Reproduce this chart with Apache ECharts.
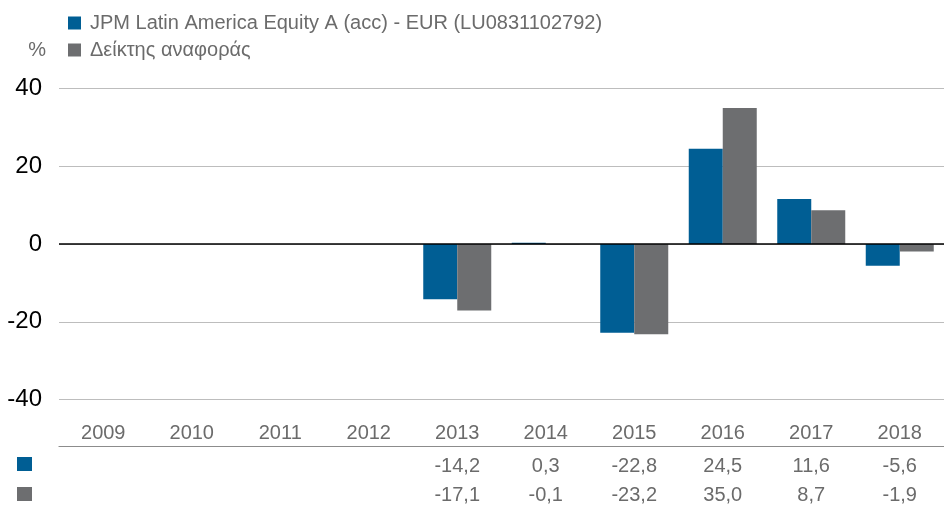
<!DOCTYPE html>
<html>
<head>
<meta charset="utf-8">
<script src="https://cdn.jsdelivr.net/npm/echarts@6/dist/echarts.min.js"></script>
<style>
  html, body { margin: 0; padding: 0; background: #fff; }
  #chart { width: 944px; height: 507px; }
</style>
</head>
<body>
<div id="chart"></div>
<script>
var years = ['2009', '2010', '2011', '2012', '2013', '2014', '2015', '2016', '2017', '2018'];
var fundName = 'JPM Latin America Equity A (acc) - EUR (LU0831102792)';
var benchName = 'Δείκτης αναφοράς';
var fundValues = [null, null, null, null, -14.2, 0.3, -22.8, 24.5, 11.6, -5.6];
var benchValues = [null, null, null, null, -17.1, -0.1, -23.2, 35.0, 8.7, -1.9];
var yTicks = [-40, -20, 0, 20, 40];

var blue = '#005e94';
var grey = '#6d6e70';
var textGrey = '#6b6b6b';
var font = '"Liberation Sans", Arial, sans-serif';

function fmt(v) {
    if (v === null || v === undefined) return '';
    return v.toFixed(1).replace('.', ',');
}

var chart = echarts.init(document.getElementById('chart'));

var option = {
    animation: false,
    textStyle: { fontFamily: font },
    color: [blue, grey],
    legend: {
        orient: 'vertical',
        left: 68,
        top: 13,
        padding: 0,
        itemWidth: 13,
        itemHeight: 13,
        itemGap: 7,
        icon: 'rect',
        selectedMode: false,
        textStyle: { fontSize: 20, color: textGrey, fontFamily: font, padding: [0, 0, 0, 4] },
        data: [fundName, benchName]
    },
    grid: {
        left: 59,
        right: 0,
        top: 88.5,
        bottom: 507 - 399.5,
        containLabel: false
    },
    xAxis: [
        {
            type: 'category',
            data: years,
            position: 'bottom',
            axisLine: { show: false, onZero: false },
            axisTick: { show: false },
            axisLabel: { interval: 0, margin: 24, fontSize: 20, color: textGrey, fontFamily: font }
        },
        {
            type: 'category',
            data: years,
            position: 'bottom',
            offset: 46.5,
            axisLine: { show: true, onZero: false, lineStyle: { color: '#8c8c8c', width: 1.2 } },
            axisTick: { show: false },
            axisLabel: {
                interval: 0, margin: 10, fontSize: 20, color: textGrey, fontFamily: font,
                formatter: function (v, i) { return fmt(fundValues[i]); }
            }
        },
        {
            type: 'category',
            data: years,
            position: 'bottom',
            offset: 46.5,
            axisLine: { show: false, onZero: false },
            axisTick: { show: false },
            axisLabel: {
                interval: 0, margin: 39, fontSize: 20, color: textGrey, fontFamily: font,
                formatter: function (v, i) { return fmt(benchValues[i]); }
            }
        }
    ],
    yAxis: {
        type: 'value',
        min: yTicks[0],
        max: yTicks[yTicks.length - 1],
        interval: 20,
        name: '%',
        nameLocation: 'end',
        nameGap: 38,
        nameTextStyle: { fontSize: 20, color: textGrey, align: 'right', verticalAlign: 'middle', padding: [0, 13, 0, 0], fontFamily: font },
        axisLine: { show: false },
        axisTick: { show: false },
        axisLabel: { margin: 17, fontSize: 24, color: '#000', fontFamily: font },
        splitLine: { lineStyle: { color: '#bdbdbd', width: 1.2 } }
    },
    series: [
        {
            name: fundName,
            type: 'bar',
            data: fundValues,
            barWidth: 34,
            barGap: '0%',
            markLine: {
                silent: true,
                symbol: 'none',
                label: { show: false },
                lineStyle: { color: '#000', width: 1.5, type: 'solid' },
                data: [{ yAxis: 0 }]
            }
        },
        {
            name: benchName,
            type: 'bar',
            data: benchValues,
            barWidth: 34,
            barGap: '0%'
        }
    ],
    graphic: [
        { type: 'rect', left: 17, top: 457, shape: { width: 15, height: 14 }, style: { fill: blue } },
        { type: 'rect', left: 17, top: 487, shape: { width: 15, height: 14 }, style: { fill: grey } }
    ]
};

chart.setOption(option);
</script>
</body>
</html>
